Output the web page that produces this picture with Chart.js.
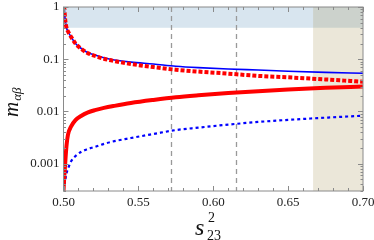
<!DOCTYPE html>
<html lang="en">
<head>
<meta charset="UTF-8">
<title>m alpha beta vs s23^2</title>
<script src="https://cdn.jsdelivr.net/npm/chart.js"></script>
<style>
  html, body { margin: 0; padding: 0; background: #fff; }
  #wrap { width: 374px; height: 240px; }
</style>
</head>
<body>
<div id="wrap"><canvas id="massChart" width="374" height="240"></canvas></div>
<script>
// s23^2 sample points (shared by all curves)
const xs = [0.5, 0.5004, 0.501, 0.502, 0.503, 0.505, 0.508, 0.512, 0.516, 0.521, 0.527,
            0.534, 0.545, 0.56, 0.575, 0.59, 0.61, 0.63, 0.65, 0.675, 0.7];
// curves
const blueSolid = [1.0, 1.0, 0.62, 0.40, 0.34, 0.27, 0.20, 0.16, 0.135, 0.12, 0.107,
                   0.097, 0.088, 0.081, 0.0735, 0.069, 0.065, 0.062, 0.059, 0.056, 0.054];
const redDotted = [1.0, 1.0, 0.62, 0.40, 0.34, 0.27, 0.20, 0.157, 0.132, 0.116, 0.102,
                   0.092, 0.081, 0.071, 0.063, 0.058, 0.053, 0.048, 0.045, 0.041, 0.037];
const redSolid = [0.0003, 0.0005, 0.0009, 0.0022, 0.0036, 0.0051, 0.0068, 0.0083, 0.0095, 0.0106, 0.0117,
                  0.0128, 0.0145, 0.0166, 0.0187, 0.0204, 0.0225, 0.0245, 0.0263, 0.0283, 0.030];
const blueDotted = [0.0003, 0.00035, 0.00045, 0.00065, 0.0008, 0.0011, 0.0014, 0.0017, 0.0019, 0.0021, 0.0024,
                    0.0027, 0.0031, 0.0037, 0.0044, 0.0049, 0.0056, 0.0063, 0.0069, 0.0076, 0.0083];

// ticks and regions
const xTicks = [0.5, 0.55, 0.6, 0.65, 0.7];
const yTicks = [0.001, 0.01, 0.1, 1];
const yTickLabels = ['0.001', '0.01', '0.1', '1'];
const dashedX = [0.572, 0.615];
const bandY = [0.4, 1];          // excluded band on top
const bandX = [2 / 3, 0.7];      // excluded band on the right

const SERIF = "'Liberation Serif', 'Times New Roman', serif";
const pts = arr => xs.map((x, i) => ({ x: x, y: arr[i] }));

Chart.defaults.font.family = SERIF;
Chart.defaults.font.size = 13;
Chart.defaults.color = '#222';

const shading = {
  id: 'shading',
  beforeDatasetsDraw(chart) {
    const { ctx, chartArea: a, scales: { x, y } } = chart;
    ctx.save();
    ctx.fillStyle = 'rgba(70,130,180,0.21)';
    const y0 = y.getPixelForValue(bandY[1]), y1 = y.getPixelForValue(bandY[0]);
    ctx.fillRect(a.left, y0, a.right - a.left, y1 - y0);
    ctx.fillStyle = 'rgba(165,145,80,0.22)';
    const x0 = x.getPixelForValue(bandX[0]), x1 = x.getPixelForValue(bandX[1]);
    ctx.fillRect(x0, a.top, x1 - x0, a.bottom - a.top);
    // dashed verticals
    ctx.strokeStyle = '#999';
    ctx.lineWidth = 1.3;
    ctx.setLineDash([5, 4]);
    dashedX.forEach(v => {
      const px = Math.round(x.getPixelForValue(v)) + 0.5;
      ctx.beginPath();
      ctx.moveTo(px, a.top);
      ctx.lineTo(px, a.bottom);
      ctx.stroke();
    });
    ctx.restore();
  }
};

const frame = {
  id: 'frame',
  afterDraw(chart) {
    const { ctx, chartArea: a, scales: { x, y } } = chart;
    ctx.save();
    ctx.strokeStyle = '#8a8a8a';
    ctx.lineWidth = 1;
    ctx.strokeRect(a.left, a.top, a.right - a.left, a.bottom - a.top);
    ctx.beginPath();
    // x ticks every 0.01, major every 0.05
    for (let i = 0; i <= 20; i++) {
      const v = 0.5 + i * 0.01;
      const px = Math.round(x.getPixelForValue(v)) + 0.5;
      const len = i % 5 === 0 ? 5 : 3;
      ctx.moveTo(px, a.bottom); ctx.lineTo(px, a.bottom - len);
      ctx.moveTo(px, a.top); ctx.lineTo(px, a.top + len);
    }
    // log y ticks
    for (let e = -4; e <= 0; e++) {
      for (let m = 1; m <= 9; m++) {
        const v = m * Math.pow(10, e);
        if (v < y.min || v > y.max) continue;
        const py = Math.round(y.getPixelForValue(v)) + 0.5;
        const len = m === 1 ? 5 : 2.5;
        ctx.moveTo(a.left, py); ctx.lineTo(a.left + len, py);
        ctx.moveTo(a.right, py); ctx.lineTo(a.right - len, py);
      }
    }
    ctx.stroke();

    // axis titles
    ctx.fillStyle = '#111';
    ctx.textBaseline = 'alphabetic';
    // y title: m_{alpha beta}
    ctx.save();
    ctx.translate(18, 117);
    ctx.rotate(-Math.PI / 2);
    ctx.font = 'italic 21px ' + SERIF;
    ctx.fillText('m', 0, 0);
    const mw = ctx.measureText('m').width;
    ctx.font = 'italic 13px ' + SERIF;
    ctx.fillText('αβ', mw + 1, 3);
    ctx.restore();
    // x title: s_{23}^2
    ctx.font = 'italic 24px ' + SERIF;
    ctx.fillText('s', 195, 235);
    ctx.font = '14px ' + SERIF;
    ctx.fillText('2', 208, 222);
    ctx.fillText('23', 207, 240);
    ctx.restore();
  }
};

function drawChart() {
  new Chart(document.getElementById('massChart').getContext('2d'), {
    type: 'line',
    data: {
      datasets: [
        { label: 'red dotted', data: pts(redDotted), borderColor: '#ff0000', borderWidth: 4, borderDash: [4, 2] },
        { label: 'blue solid', data: pts(blueSolid), borderColor: '#0000ff', borderWidth: 1.6 },
        { label: 'red solid', data: pts(redSolid), borderColor: '#ff0000', borderWidth: 4 },
        { label: 'blue dotted', data: pts(blueDotted), borderColor: '#0000ff', borderWidth: 2.2, borderDash: [3, 3] }
      ]
    },
    options: {
      responsive: false,
      animation: false,
      devicePixelRatio: 1,
      layout: { padding: { left: 0, right: 11, top: 7, bottom: 0 } },
      elements: { point: { radius: 0 }, line: { cubicInterpolationMode: 'monotone', fill: false } },
      plugins: { legend: { display: false }, tooltip: { enabled: false } },
      scales: {
        x: {
          type: 'linear', min: 0.5, max: 0.7,
          grid: { display: false, drawTicks: false },
          border: { display: false },
          afterBuildTicks: s => { s.ticks = xTicks.map(v => ({ value: v })); },
          afterFit: s => { s.height = 49; s.paddingLeft = 0; s.paddingRight = 0; },
          ticks: {
            padding: 4, maxRotation: 0, color: '#222',
            font: { family: SERIF, size: 13 },
            callback: v => Number(v).toFixed(2)
          }
        },
        y: {
          type: 'logarithmic', min: 0.0003, max: 1,
          grid: { display: false, drawTicks: false },
          border: { display: false },
          afterBuildTicks: s => { s.ticks = yTicks.map(v => ({ value: v })); },
          afterFit: s => { s.width = 63.5; s.paddingTop = 0; s.paddingBottom = 0; },
          ticks: {
            padding: 4, color: '#222',
            font: { family: SERIF, size: 13 },
            callback: v => yTickLabels[yTicks.indexOf(v)] || ''
          }
        }
      }
    },
    plugins: [shading, frame]
  });
}

Promise.all([
  document.fonts.load("13px 'Liberation Serif'"),
  document.fonts.load("italic 13px 'Liberation Serif'")
]).then(drawChart, drawChart);
</script>
</body>
</html>
